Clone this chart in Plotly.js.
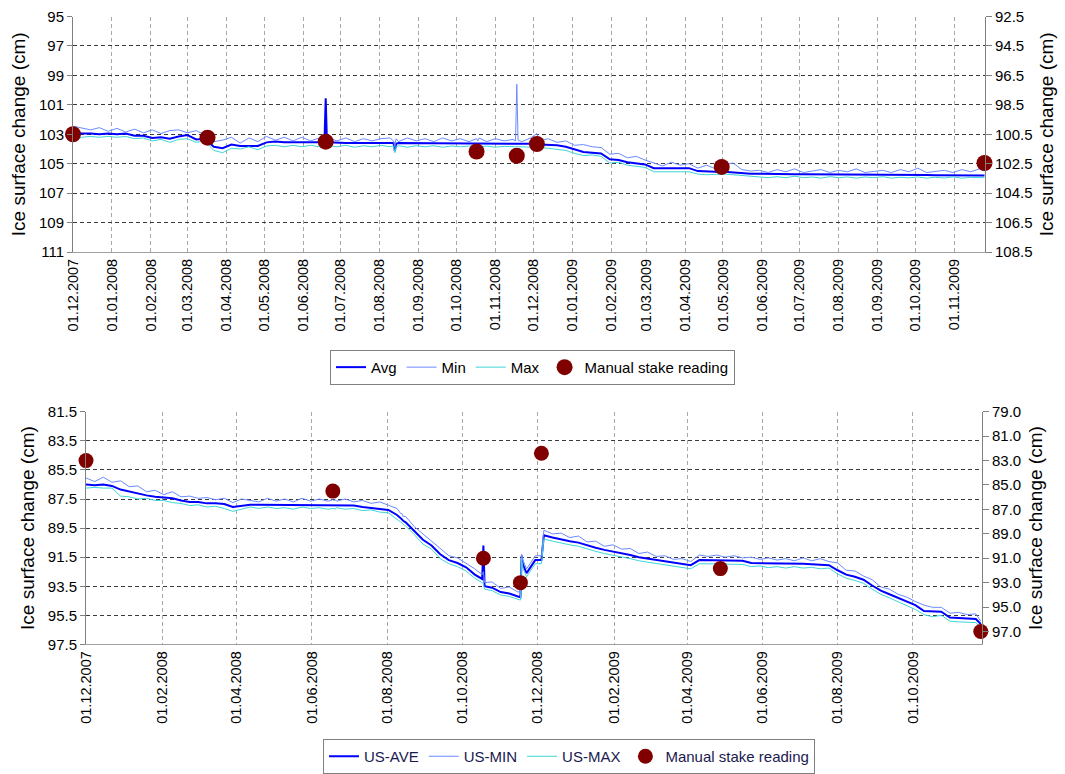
<!DOCTYPE html>
<html>
<head>
<meta charset="utf-8">
<script src="https://cdn.plot.ly/plotly-3.0.1.min.js"></script>
<style>
  html, body { margin: 0; padding: 0; background: #fff; }
  #chart { width: 1065px; height: 774px; }
</style>
</head>
<body>
<div id="chart"></div>
<script>
// Shared sampling dates (weekly, plus extra days around short events)
const dates = [
  '2007-12-01','2007-12-08','2007-12-15','2007-12-22','2007-12-29','2008-01-05','2008-01-12','2008-01-19','2008-01-26','2008-02-02',
  '2008-02-09','2008-02-16','2008-02-23','2008-03-01','2008-03-08','2008-03-15','2008-03-22','2008-03-29','2008-04-05','2008-04-12',
  '2008-04-19','2008-04-26','2008-05-03','2008-05-10','2008-05-17','2008-05-24','2008-05-31','2008-06-07','2008-06-14','2008-06-18',
  '2008-06-19','2008-06-20','2008-06-21','2008-06-28','2008-07-05','2008-07-12','2008-07-19','2008-07-26','2008-08-02','2008-08-09',
  '2008-08-12','2008-08-13','2008-08-14','2008-08-16','2008-08-23','2008-08-30','2008-09-06','2008-09-13','2008-09-20','2008-09-27',
  '2008-10-04','2008-10-11','2008-10-17','2008-10-18','2008-10-19','2008-10-25','2008-11-01','2008-11-08','2008-11-15','2008-11-17',
  '2008-11-18','2008-11-19','2008-11-22','2008-11-29','2008-12-04','2008-12-06','2008-12-13','2008-12-20','2008-12-27','2009-01-03',
  '2009-01-10','2009-01-17','2009-01-24','2009-01-31','2009-02-07','2009-02-14','2009-02-21','2009-02-28','2009-03-07','2009-03-14',
  '2009-03-21','2009-03-28','2009-04-04','2009-04-11','2009-04-18','2009-04-25','2009-05-02','2009-05-09','2009-05-16','2009-05-23',
  '2009-05-30','2009-06-06','2009-06-13','2009-06-20','2009-06-27','2009-07-04','2009-07-11','2009-07-18','2009-07-25','2009-08-01',
  '2009-08-08','2009-08-15','2009-08-22','2009-08-29','2009-09-05','2009-09-12','2009-09-19','2009-09-26','2009-10-03','2009-10-10',
  '2009-10-17','2009-10-24','2009-10-31','2009-11-07','2009-11-14','2009-11-21','2009-11-25'
];

// ---- Top chart ----
const topAvg = [
  102.85,102.95,102.95,103.0,102.95,103.0,102.95,103.1,103.1,103.25,
  103.2,103.3,103.15,103.05,103.35,103.3,103.85,103.95,103.7,103.8,
  103.8,103.8,103.55,103.5,103.55,103.55,103.55,103.55,103.55,103.55,
  100.55,103.55,103.55,103.6,103.6,103.6,103.6,103.6,103.6,103.6,
  103.6,104.15,103.65,103.6,103.6,103.6,103.6,103.6,103.6,103.6,
  103.6,103.62,103.62,103.62,103.62,103.62,103.62,103.62,103.62,103.62,
  103.6,103.65,103.65,103.65,103.65,103.7,103.7,103.75,103.85,104.05,
  104.2,104.25,104.3,104.7,104.75,104.9,105.0,105.05,105.3,105.3,
  105.25,105.3,105.3,105.5,105.55,105.55,105.55,105.6,105.65,105.68,
  105.68,105.7,105.7,105.7,105.72,105.72,105.72,105.73,105.73,105.74,
  105.74,105.75,105.75,105.75,105.76,105.76,105.76,105.77,105.77,105.77,
  105.78,105.78,105.78,105.79,105.79,105.8,105.8
];
const topMin = [
  102.45,102.6,102.7,102.55,102.8,102.6,102.85,102.65,102.9,102.7,
  102.95,102.75,102.7,102.9,102.75,103.05,103.5,103.4,103.2,103.6,
  103.25,103.5,103.15,103.4,103.2,103.45,103.2,103.45,103.25,103.4,
  103.3,103.45,103.25,103.45,103.25,103.5,103.3,103.45,103.3,103.25,
  103.45,103.85,103.3,103.5,103.25,103.45,103.3,103.5,103.25,103.45,
  103.3,103.5,103.3,103.45,103.25,103.5,103.3,103.45,103.35,103.45,
  99.6,103.4,103.5,103.25,102.95,103.45,103.3,103.55,103.45,103.75,
  103.7,103.85,103.9,104.35,104.3,104.6,104.5,104.75,104.95,105.15,
  104.9,105.1,105.0,105.3,105.1,105.35,105.05,104.95,105.4,105.5,
  105.45,105.6,105.4,105.55,105.35,105.6,105.5,105.4,105.6,105.45,
  105.55,105.35,105.6,105.5,105.45,105.6,105.4,105.55,105.3,105.6,
  105.5,105.45,105.6,105.4,105.55,105.35,105.5
];
const topMax = [
  103.5,103.2,103.15,103.2,103.15,103.2,103.15,103.3,103.25,103.45,
  103.35,103.55,103.35,103.3,103.55,103.45,104.1,104.25,103.95,104.0,
  103.85,104.05,103.8,103.75,103.85,103.75,103.85,103.75,103.85,103.78,
  103.75,103.8,103.78,103.85,103.75,103.88,103.78,103.85,103.75,103.85,
  103.8,104.25,103.85,103.78,103.88,103.78,103.85,103.78,103.88,103.8,
  103.85,103.8,103.88,103.8,103.86,103.8,103.88,103.82,103.88,103.85,
  103.82,103.85,103.85,103.88,103.85,103.9,103.95,104.0,104.1,104.3,
  104.45,104.4,104.5,104.95,104.9,105.1,105.2,105.25,105.55,105.55,
  105.5,105.5,105.55,105.7,105.75,105.72,105.7,105.75,105.8,105.85,
  105.85,105.95,105.88,105.95,105.85,105.95,105.9,105.98,105.88,105.95,
  105.9,105.98,105.9,105.95,105.88,105.98,105.92,105.96,105.9,105.98,
  105.92,105.97,105.9,105.98,105.93,105.97,105.95
];
const topStakeDates = ['2007-12-01','2008-03-17','2008-06-19','2008-10-17','2008-11-18','2008-12-04','2009-04-30','2009-11-25'];
const topStakeVals  = [100.5, 100.73, 101.0, 101.67, 101.96, 101.16, 102.72, 102.45]; // right axis

// ---- Bottom chart ----
const botAvg = [
  86.5,86.55,86.5,86.6,86.85,87.0,87.15,87.25,87.35,87.4,
  87.45,87.6,87.7,87.7,87.8,87.8,87.85,88.05,87.95,87.9,
  87.9,87.9,87.9,87.9,87.9,87.9,87.9,87.92,87.92,87.92,
  87.92,87.92,87.93,87.95,87.95,88.05,88.1,88.15,88.25,88.6,
  88.8,88.9,89.0,89.1,89.7,90.3,90.7,91.3,91.7,91.9,
  92.2,92.7,93.0,90.7,93.5,93.6,93.9,94.0,94.2,94.25,
  91.4,92.0,92.6,91.7,91.7,90.0,90.15,90.3,90.4,90.5,
  90.7,90.85,91.0,91.1,91.2,91.35,91.5,91.6,91.7,91.8,
  91.9,92.0,92.05,91.7,91.7,91.72,91.72,91.75,91.75,91.9,
  91.9,91.92,91.92,91.95,91.95,91.95,91.98,92.0,92.05,92.4,
  92.7,92.85,93.05,93.45,93.8,94.05,94.3,94.6,94.8,95.2,
  95.2,95.25,95.65,95.7,95.7,95.75,96.1
];
const botMin = [
  86.05,86.3,86.0,86.35,86.25,86.65,86.6,87.0,86.9,87.2,
  87.0,87.35,87.3,87.45,87.4,87.55,87.45,87.75,87.5,87.6,
  87.7,87.45,87.65,87.5,87.7,87.45,87.65,87.5,87.65,87.55,
  87.6,87.55,87.65,87.5,87.7,87.6,87.8,87.7,87.9,88.15,
  88.5,88.5,88.7,88.7,89.4,89.9,90.45,90.9,91.4,91.55,
  91.9,92.3,92.7,92.5,93.25,93.2,93.65,93.55,93.9,93.85,
  91.3,91.7,92.3,91.4,91.4,89.65,89.9,89.85,90.15,90.05,
  90.45,90.4,90.75,90.65,90.95,90.9,91.25,91.15,91.45,91.4,
  91.65,91.6,91.8,91.35,91.45,91.35,91.5,91.4,91.55,91.5,
  91.65,91.55,91.7,91.6,91.75,91.55,91.75,91.6,91.8,91.9,
  92.4,92.45,92.8,93.05,93.55,93.7,94.05,94.25,94.55,94.8,
  94.95,94.95,95.35,95.3,95.45,95.4,95.9
];
const botMax = [
  86.75,86.7,86.75,86.75,87.3,87.35,87.5,87.45,87.6,87.6,
  87.75,87.8,87.95,87.9,88.05,88.0,88.15,88.35,88.2,88.05,
  88.15,88.05,88.15,88.1,88.2,88.05,88.15,88.1,88.2,88.12,
  88.15,88.2,88.1,88.2,88.15,88.3,88.25,88.4,88.45,88.9,
  89.05,89.15,89.25,89.35,89.95,90.6,90.95,91.6,91.95,92.15,
  92.45,92.95,93.25,93.3,93.7,93.8,94.1,94.2,94.4,94.45,
  91.6,92.25,92.85,91.95,91.95,90.25,90.4,90.55,90.65,90.75,
  90.95,91.1,91.25,91.35,91.45,91.6,91.75,91.85,91.95,92.05,
  92.15,92.25,92.3,91.95,91.95,92.0,92.0,92.0,92.0,92.15,
  92.1,92.22,92.15,92.25,92.15,92.25,92.2,92.3,92.25,92.65,
  92.95,93.1,93.3,93.7,94.05,94.3,94.55,94.85,95.1,95.45,
  95.6,95.5,95.9,95.95,95.95,96.0,96.35
];
const botStakeDates = ['2007-12-01','2008-06-18','2008-10-18','2008-11-17','2008-12-04','2009-04-28','2009-11-25'];
const botStakeVals  = [83.0, 85.5, 91.0, 93.0, 82.4, 91.85, 97.0]; // right axis

const topNames = ['Avg','Min','Max','Manual stake reading'];
const botNames = ['US-AVE','US-MIN','US-MAX','Manual stake reading'];

const C_AVG = '#0000ff', C_MIN = '#6a8bff', C_MAX = '#3fd5d5', C_STAKE = '#800000';
const FONT = 'Liberation Sans, Arial, sans-serif';

const traces = [
  {x: dates, y: topAvg, name: topNames[0], mode: 'lines', line: {color: C_AVG, width: 2}, xaxis: 'x', yaxis: 'y', legend: 'legend'},
  {x: dates, y: topMin, name: topNames[1], mode: 'lines', line: {color: C_MIN, width: 1}, xaxis: 'x', yaxis: 'y', legend: 'legend'},
  {x: dates, y: topMax, name: topNames[2], mode: 'lines', line: {color: C_MAX, width: 1}, xaxis: 'x', yaxis: 'y', legend: 'legend'},
  {x: topStakeDates, y: topStakeVals, name: topNames[3], mode: 'markers', marker: {color: C_STAKE, size: 16}, cliponaxis: false, xaxis: 'x', yaxis: 'y2', legend: 'legend'},
  {x: dates, y: botAvg, name: botNames[0], mode: 'lines', line: {color: C_AVG, width: 2}, xaxis: 'x2', yaxis: 'y3', legend: 'legend2'},
  {x: dates, y: botMin, name: botNames[1], mode: 'lines', line: {color: C_MIN, width: 1}, xaxis: 'x2', yaxis: 'y3', legend: 'legend2'},
  {x: dates, y: botMax, name: botNames[2], mode: 'lines', line: {color: C_MAX, width: 1}, xaxis: 'x2', yaxis: 'y3', legend: 'legend2'},
  {x: botStakeDates, y: botStakeVals, name: botNames[3], mode: 'markers', marker: {color: C_STAKE, size: 15}, cliponaxis: false, xaxis: 'x2', yaxis: 'y4', legend: 'legend2'}
];

const W = 1065, H = 774;
const topRange = ['2007-12-01', '2009-11-25 10:00'];
const botRange = ['2007-12-01', '2009-11-26 00:00'];

function xBase(domain, anchor, range, dtick) {
  return {
    domain: domain, anchor: anchor, type: 'date', range: range,
    tick0: '2007-12-01', dtick: dtick, tickformat: '%d.%m.%Y', tickangle: -90,
    tickfont: {size: 14.5, family: FONT, color: '#000'},
    showgrid: true, gridcolor: '#a8a8a8', griddash: '4px,3px', gridwidth: 1,
    showline: true, linecolor: '#a0a0a0', linewidth: 1, ticks: '', zeroline: false
  };
}
function xTop(overlay, anchor, range, dtick) {
  return {
    overlaying: overlay, anchor: anchor, side: 'top', type: 'date', range: range,
    tick0: '2007-12-01', dtick: dtick, ticks: 'outside', ticklen: 5, tickcolor: '#000',
    showticklabels: false, showgrid: false, showline: true, linecolor: '#000', linewidth: 1, zeroline: false
  };
}
function yLeft(domain, anchor, range, tick0, fmt) {
  return {
    domain: domain, anchor: anchor, range: range, tick0: tick0, dtick: 2, tickformat: fmt,
    ticks: 'outside', ticklen: 5, tickcolor: '#808080',
    tickfont: {size: 15, family: FONT, color: '#000'},
    showline: true, linecolor: '#808080', linewidth: 1,
    showgrid: true, gridcolor: '#3a3a3a', griddash: '4px,3px', gridwidth: 1, zeroline: false,
    title: {text: 'Ice surface change (cm)', font: {size: 19, family: FONT, color: '#000'}, standoff: 8}
  };
}
function yRight(overlay, anchor, range, tick0) {
  return {
    overlaying: overlay, anchor: anchor, side: 'right', range: range, tick0: tick0, dtick: 2, tickformat: '.1f',
    ticks: 'outside', ticklen: 6, tickcolor: '#808080',
    tickfont: {size: 15, family: FONT, color: '#000'},
    showline: true, linecolor: '#808080', linewidth: 1, showgrid: false, zeroline: false,
    title: {text: 'Ice surface change (cm)', font: {size: 19, family: FONT, color: '#000'}, standoff: 8}
  };
}

const layout = {
  width: W, height: H,
  margin: {l: 0, r: 0, t: 0, b: 0},
  paper_bgcolor: '#fff', plot_bgcolor: '#fff',
  font: {family: FONT, size: 15, color: '#000'},
  showlegend: true,
  xaxis:  xBase([73 / W, 985 / W], 'y', topRange, 'M1'),
  xaxis3: xTop('x', 'y', topRange, 'M1'),
  yaxis:  yLeft([1 - 255 / H, 1 - 16.7 / H], 'x', [111, 95], 95, 'd'),
  yaxis2: yRight('y', 'x', [108.5, 92.5], 92.5),
  xaxis2: xBase([86 / W, 982 / W], 'y3', botRange, 'M2'),
  xaxis4: xTop('x2', 'y3', botRange, 'M2'),
  yaxis3: yLeft([1 - 652 / H, 1 - 416.6 / H], 'x2', [97.5, 81.5], 81.5, '.1f'),
  yaxis4: yRight('y3', 'x2', [98.06, 79], 79),
  legend: {
    x: 330 / W, y: 1 - 354 / H, xanchor: 'left', yanchor: 'top', orientation: 'h',
    bordercolor: '#808080', borderwidth: 1, bgcolor: '#fff',
    font: {size: 15, family: FONT, color: '#000'}, itemwidth: 30, tracegroupgap: 0
  },
  legend2: {
    x: 323 / W, y: 1 - 748 / H, xanchor: 'left', yanchor: 'top', orientation: 'h',
    bordercolor: '#808080', borderwidth: 1, bgcolor: '#fff',
    font: {size: 15, family: FONT, color: '#1a1a50'}, itemwidth: 30, tracegroupgap: 0
  }
};

Plotly.newPlot('chart', traces, layout, {displayModeBar: false, staticPlot: true});
</script>
</body>
</html>
